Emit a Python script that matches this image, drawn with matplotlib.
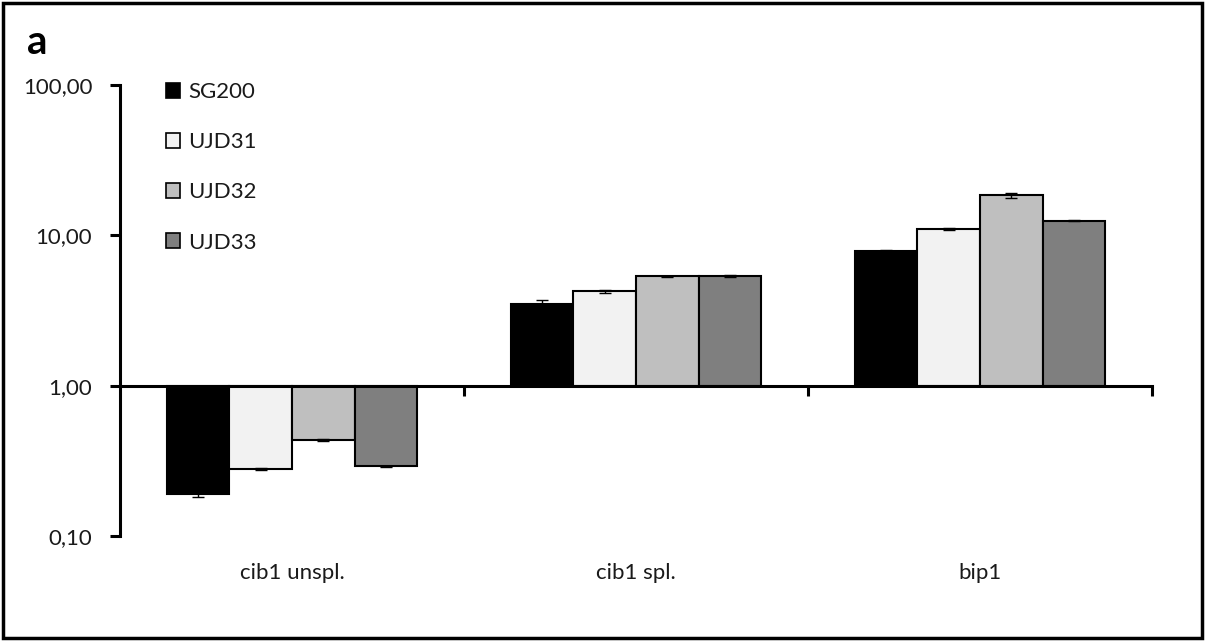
import matplotlib
matplotlib.use("Agg")
import matplotlib.pyplot as plt
from matplotlib.patches import Rectangle, Patch
from matplotlib.transforms import blended_transform_factory
import numpy as np

plt.rcParams['font.family'] = ['Lato', 'DejaVu Sans']

categories = ["cib1 unspl.", "cib1 spl.", "bip1"]
strains = ["SG200", "UJD31", "UJD32", "UJD33"]
colors = ["#000000", "#f2f2f2", "#bfbfbf", "#7f7f7f"]

# relative expression (log scale, baseline 1.0)
sg200 = [0.19, 3.50, 7.82]
ujd31 = [0.28, 4.25, 10.96]
ujd32 = [0.435, 5.33, 18.5]
ujd33 = [0.29, 5.39, 12.5]

sg200_err = [0.008, 0.24, 0.15]
ujd31_err = [0.004, 0.10, 0.15]
ujd32_err = [0.004, 0.05, 0.65]
ujd33_err = [0.002, 0.08, 0.10]

yticks = [0.1, 1, 10, 100]
ytick_labels = ["0,10", "1,00", "10,00", "100,00"]

series = [sg200, ujd31, ujd32, ujd33]
errors = [sg200_err, ujd31_err, ujd32_err, ujd33_err]

W, H = 1205, 641
FS = 16
fig = plt.figure(figsize=(W / 100, H / 100), dpi=100)
ax = fig.add_axes([120 / W, 1 - 536 / H, (1152 - 120) / W, (536 - 85) / H])

ax.set_yscale('log')
ax.set_ylim(0.1, 100)
ax.set_xlim(-0.5, len(categories) - 0.5)

x = np.arange(len(categories))
bw = 0.182
for i, (vals, errs, col, name) in enumerate(zip(series, errors, colors, strains)):
    pos = x + (i - 1.5) * bw
    vals = np.array(vals)
    ax.bar(pos, vals - 1, bottom=1, width=bw, color=col, edgecolor='black',
           linewidth=1.5, zorder=2, label=name)
    ax.errorbar(pos, vals, yerr=errs, fmt='none', ecolor='black',
                elinewidth=1.0, capsize=4, capthick=1.0, zorder=3)

# axes styling
for s in ('top', 'right'):
    ax.spines[s].set_visible(False)
ax.spines['bottom'].set_position(('data', 1))
ax.spines['bottom'].set_linewidth(2.2)
ax.spines['left'].set_linewidth(2.2)
ax.spines['bottom'].set_zorder(4)

ax.set_yticks(yticks)
ax.set_yticklabels(ytick_labels, fontsize=FS, color='#1a1a1a')
ax.yaxis.set_minor_locator(matplotlib.ticker.NullLocator())
ax.tick_params(axis='y', direction='out', length=7, width=2.2, pad=13)

ax.set_xticks(np.arange(len(categories)) + 0.5)
ax.set_xticklabels([])
ax.tick_params(axis='x', direction='out', length=7, width=2.2)

trans = blended_transform_factory(ax.transData, ax.transAxes)
for xi, cat in zip(x, categories):
    ax.text(xi, -0.082, cat, transform=trans, ha='center', va='center',
            fontsize=FS, color='#1a1a1a')

handles = [Patch(facecolor=c, edgecolor='black', linewidth=1.2) for c in colors]
fig.legend(handles, strains, loc='upper left',
           bbox_to_anchor=(166 / W, 1 - 82 / H), frameon=False,
           fontsize=FS, handlelength=0.65, handleheight=0.65,
           handletextpad=0.35, labelspacing=1.36, borderpad=0, borderaxespad=0,
           labelcolor='#1a1a1a')

fig.text(27 / W, 1 - 43 / H, "a", fontsize=29, fontweight='bold',
         ha='left', va='center', color='black')

fig.patches.append(Rectangle((3 / W, 3 / H), 1 - 6 / W, 1 - 6 / H,
                             transform=fig.transFigure, fill=False,
                             edgecolor='black', linewidth=2.5))

fig.savefig("out.png", dpi=100, facecolor='white')
